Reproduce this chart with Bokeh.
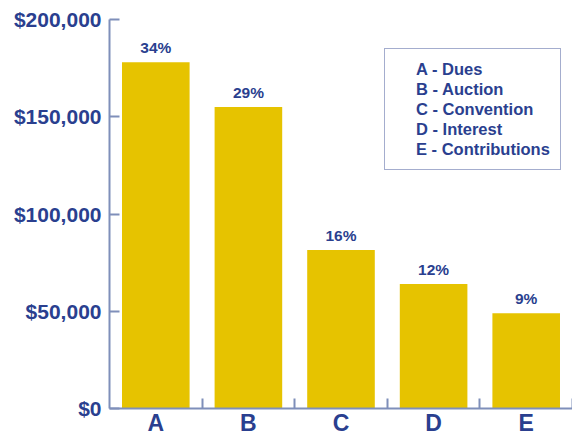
import numpy as np
from bokeh.plotting import figure
from bokeh.models import (Range1d, FixedTicker, NumeralTickFormatter, ColumnDataSource,
                          Legend, LegendItem)
from bokeh.core.properties import value
from bokeh.embed import file_html
from bokeh.resources import INLINE

categories = ["A", "B", "C", "D", "E"]
amounts = [178000, 155000, 81500, 64000, 49000]
percents = ["34%", "29%", "16%", "12%", "9%"]
legend_labels = ["A - Dues", "B - Auction", "C - Convention", "D - Interest", "E - Contributions"]
y_ticks = [0, 50000, 100000, 150000, 200000]

NAVY = "#2a3f8f"
AXIS = "#7f8fba"
GOLD = "#e6c300"
FONT = "Liberation Sans"

xs = np.arange(len(categories)) + 0.5
src = ColumnDataSource(dict(x=xs, amount=amounts, pct=percents))

p = figure(width=572, height=438, output_backend="svg", toolbar_location=None,
           x_range=Range1d(0, len(categories)), y_range=Range1d(0, 200000),
           min_border_left=109, min_border_right=0, min_border_top=19, min_border_bottom=10)
p.outline_line_color = None
p.grid.grid_line_color = None
p.background_fill_color = "white"

p.vbar(x="x", top="amount", width=0.73, source=src, fill_color=GOLD, line_color=None)
p.text(x="x", y="amount", text="pct", source=src, text_align="center", text_baseline="bottom",
       y_offset=-6, text_font=value(FONT), text_font_style="bold", text_font_size="15.5px",
       text_color=NAVY)

# y axis
ya = p.yaxis[0]
ya.ticker = FixedTicker(ticks=y_ticks)
ya.formatter = NumeralTickFormatter(format="$0,0")
ya.major_tick_in = 10
ya.major_tick_out = 0
ya.minor_tick_line_color = None
ya.axis_line_color = AXIS
ya.axis_line_width = 2
ya.major_tick_line_color = AXIS
ya.major_tick_line_width = 2
ya.major_label_text_font = FONT
ya.major_label_text_font_style = "bold"
ya.major_label_text_font_size = "21px"
ya.major_label_text_color = NAVY
ya.major_label_standoff = 8

# x axis
xa = p.xaxis[0]
xa.ticker = FixedTicker(ticks=list(xs), minor_ticks=list(range(1, len(categories) + 1)))
xa.major_label_overrides = {float(x): c for x, c in zip(xs, categories)}
xa.major_tick_line_color = None
xa.major_tick_in = 0
xa.major_tick_out = 0
xa.minor_tick_in = 10
xa.minor_tick_out = 0
xa.minor_tick_line_color = AXIS
xa.minor_tick_line_width = 2
xa.axis_line_color = AXIS
xa.axis_line_width = 2
xa.major_label_text_font = FONT
xa.major_label_text_font_style = "bold"
xa.major_label_text_font_size = "23px"
xa.major_label_text_color = NAVY
xa.major_label_standoff = 1

# legend (text-only items)
dummy = p.scatter(x=[], y=[], size=1, fill_alpha=0, line_alpha=0)
items = [LegendItem(label=l, renderers=[dummy]) for l in legend_labels]
leg = Legend(items=items, location=(275, 238), glyph_width=20, glyph_height=20,
             label_height=20, spacing=0, padding=10, label_standoff=1, margin=0,
             label_text_font=FONT, label_text_font_style="bold", label_text_font_size="16.5px",
             label_text_color=NAVY, border_line_color="#4a5c9e", border_line_width=1.5,
             background_fill_color="white", background_fill_alpha=1)
p.add_layout(leg, "center")

open("out.html", "w").write(file_html(p, INLINE))
